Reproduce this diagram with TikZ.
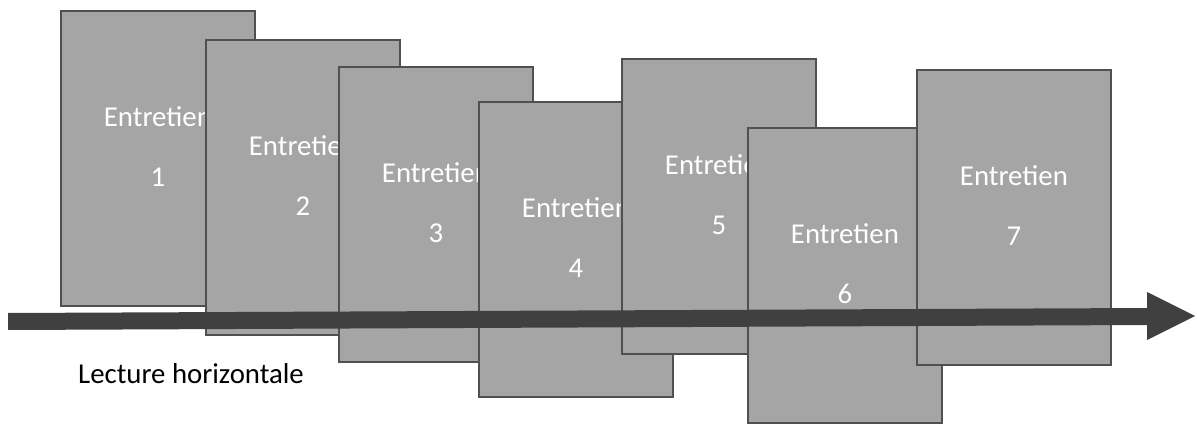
\documentclass[tikz,border=0pt]{standalone}
\usepackage{fontspec}
\setmainfont{Carlito}
\definecolor{boxfill}{HTML}{A5A5A5}
\definecolor{boxline}{HTML}{505050}
\definecolor{arrowcol}{HTML}{404040}
\begin{document}
\begin{tikzpicture}[x=1pt,y=-1pt,
  card/.style={draw=boxline,fill=boxfill,line width=1.8pt,rectangle,inner sep=0pt,
    minimum width=194pt,minimum height=295pt,anchor=north west},
  cardtext/.style={text=white,font=\fontsize{28.8}{34}\selectfont,inner sep=0pt,anchor=center},
  labeltext/.style={text=black,font=\fontsize{28.8}{34}\selectfont,inner sep=0pt,anchor=center}]
\useasboundingbox (0,0) rectangle (1197,425);
\foreach \n/\x/\y in {1/60/10,2/205/39,3/338/66,4/478/101,5/621/58,6/747/127,7/916/69}{
  \node[card] (b\n) at (\x,\y) {};
  \node[cardtext] (t\n) at ([yshift=-107pt]b\n.north) {Entretien};
  \node[cardtext] (n\n) at ([yshift=-167pt]b\n.north) {\n};
}
\coordinate (a1) at (8,313);
\coordinate (a2) at (1147,308);
\coordinate (a3) at (1147,292);
\coordinate (tip) at (1195,316);
\coordinate (a4) at (1147,340);
\coordinate (a5) at (1147,325);
\coordinate (a6) at (8,330);
\fill[arrowcol] (a1) -- (a2) -- (a3) -- (tip) -- (a4) -- (a5) -- (a6) -- cycle;
\node[labeltext] (lbl) at (191,374) {Lecture horizontale};
\end{tikzpicture}
\end{document}
